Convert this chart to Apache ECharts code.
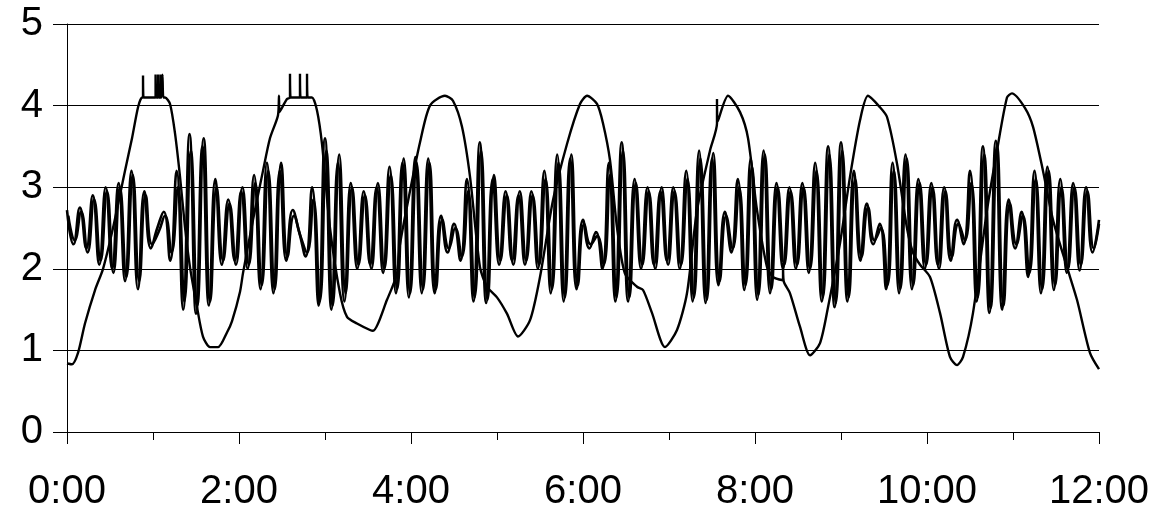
<!DOCTYPE html>
<html>
<head>
<meta charset="utf-8">
<title>chart</title>
<script src="https://cdn.jsdelivr.net/npm/echarts@6/dist/echarts.min.js"></script>
<style>
  html, body { margin: 0; padding: 0; background: #fff; }
  #chart { width: 1165px; height: 515px; }
</style>
</head>
<body>
<div id="chart"></div>
<script>
// x axis in hours, labels every 2 h
const xTicks = [0, 2, 4, 6, 8, 10, 12];
const yTicks = [0, 1, 2, 3, 4, 5];

// slow wave (hours, value)
const slowTimes = [
  0.0, 0.058, 0.128, 0.209, 0.326, 0.419, 0.535, 0.674, 0.756, 0.826, 0.872,
  0.884, 0.884, 0.89, 0.95, 1.03, 1.03, 1.04, 1.06, 1.06, 1.07, 1.09, 1.09, 1.10, 1.11, 1.12, 1.14,
  1.198, 1.256, 1.314, 1.372, 1.43, 1.512, 1.581, 1.663, 1.756, 1.86, 1.919, 2.012, 2.047,
  2.163, 2.279, 2.36, 2.453, 2.465, 2.47, 2.558, 2.593, 2.593, 2.6, 2.709, 2.709, 2.716,
  2.791, 2.791, 2.798, 2.849, 2.907, 2.965, 3.058, 3.174, 3.256, 3.372, 3.523, 3.558,
  3.721, 3.837, 3.872, 3.988, 4.105, 4.221, 4.395, 4.488, 4.593, 4.686, 4.802, 4.884,
  5.0, 5.116, 5.244, 5.384, 5.5, 5.651, 5.814, 5.965, 6.047, 6.163, 6.233, 6.314, 6.395,
  6.488, 6.628, 6.698, 6.802, 6.953, 7.093, 7.209, 7.326, 7.477, 7.558, 7.558, 7.565,
  7.686, 7.826, 7.919, 8.023, 8.14, 8.209, 8.326, 8.326, 8.333, 8.407, 8.523, 8.64,
  8.756, 8.849, 8.988, 9.105, 9.221, 9.314, 9.453, 9.535, 9.651, 9.767, 9.837, 9.919,
  10.035, 10.151, 10.267, 10.349, 10.419, 10.535, 10.698, 10.814, 10.93, 10.988, 11.14,
  11.233, 11.349, 11.465, 11.628, 11.744, 11.895, 12.0
];
const slowValues = [
  0.84, 0.83, 0.97, 1.33, 1.74, 2.0, 2.5, 3.2, 3.6, 3.98, 4.1,
  4.1, 4.37, 4.1, 4.1, 4.1, 4.38, 4.1, 4.1, 4.38, 4.1, 4.1, 4.38, 4.1, 4.38, 4.1, 4.1,
  4.02, 3.66, 3.13, 2.51, 2.02, 1.53, 1.17, 1.04, 1.04, 1.22, 1.36, 1.72, 1.95,
  2.6, 3.2, 3.6, 3.88, 4.12, 3.92, 4.08, 4.1, 4.39, 4.1, 4.1, 4.39, 4.1,
  4.1, 4.39, 4.1, 4.1, 3.94, 3.53, 2.5, 1.7, 1.41, 1.33, 1.25, 1.24,
  1.62, 1.94, 2.3, 2.95, 3.55, 4.0, 4.12, 4.06, 3.74, 3.13, 2.02, 1.78,
  1.65, 1.45, 1.17, 1.37, 1.9, 2.84, 3.53, 4.02, 4.12, 4.02, 3.78, 3.33, 2.51,
  1.94, 1.78, 1.74, 1.46, 1.04, 1.25, 1.7, 2.72, 3.45, 3.78, 4.08, 3.8,
  4.12, 3.92, 3.6, 2.72, 2.02, 1.9, 1.86, 2.07, 1.85, 1.7, 1.29, 0.94,
  1.09, 1.53, 2.31, 3.13, 3.82, 4.12, 3.98, 3.86, 3.29, 2.5, 2.2, 2.05,
  1.9, 1.46, 0.92, 0.82, 0.92, 1.46, 2.72, 3.45, 4.1, 4.15, 3.97,
  3.74, 3.2, 2.6, 2.02, 1.62, 0.97, 0.77
];

// fast oscillations, one reading every 4.5 min (0.075 h), peaks and troughs
const fastStep = 0.075;
const fastA = [
  2.72, 2.3, 2.75, 2.25, 2.9, 2.05, 3.0, 2.0, 3.05, 1.85,
  3.2, 1.75, 2.95, 2.25, 2.5, 2.7, 2.1, 3.2, 1.5, 3.65,
  1.45, 3.5, 1.55, 3.1, 2.05, 2.85, 2.1, 2.95, 2.0, 3.15,
  1.75, 3.3, 1.7, 3.2, 2.1, 2.72, 2.45, 2.15, 3.0, 1.55,
  3.6, 1.5, 3.3, 1.6, 3.05, 2.0, 2.95, 2.05, 3.0, 1.95,
  3.25, 1.7, 3.3, 1.65, 3.37, 1.7, 3.35, 1.7, 2.65, 2.2,
  2.55, 2.1, 3.1, 1.6, 3.55, 1.58, 3.1, 2.05, 2.95, 2.1,
  2.9, 2.05, 2.95, 2.0, 3.2, 1.7, 3.4, 1.6, 3.35, 1.75,
  2.6, 2.25, 2.45, 2.0, 3.3, 1.6, 3.55, 1.6, 3.1, 2.0,
  3.0, 2.05, 2.95, 2.1, 3.0, 2.0, 3.2, 1.6, 3.45, 1.58,
  3.35, 1.8, 2.7, 2.2, 3.1, 1.74, 3.35, 1.62, 3.45, 1.7,
  3.05, 2.0, 3.0, 2.0, 3.05, 1.95, 3.3, 1.6, 3.5, 1.53,
  3.55, 1.6, 3.2, 2.1, 2.8, 2.3, 2.55, 1.75, 3.3, 1.7,
  3.4, 1.75, 3.1, 2.0, 3.05, 2.05, 3.0, 2.1, 2.6, 2.3,
  3.2, 1.6, 3.5, 1.46, 3.57, 1.5, 2.85, 2.25, 2.7, 1.9,
  3.2, 1.7, 3.25, 1.74, 3.1, 1.95, 3.05, 1.98, 3.0, 2.2,
  2.6
];
const fastB = [
  2.65, 2.35, 2.7, 2.2, 2.85, 2.1, 2.95, 1.95, 3.0, 1.9,
  3.15, 1.85, 2.9, 2.3, 2.45, 2.65, 2.2, 3.0, 1.6, 3.45,
  1.55, 3.6, 1.6, 3.0, 2.1, 2.8, 2.05, 3.0, 2.05, 3.05,
  1.8, 3.2, 1.75, 3.3, 2.15, 2.65, 2.4, 2.2, 2.85, 1.6,
  3.45, 1.55, 3.4, 1.7, 3.0, 2.05, 2.9, 2.0, 3.05, 2.0,
  3.15, 1.75, 3.35, 1.7, 3.3, 1.75, 3.3, 1.75, 2.6, 2.25,
  2.5, 2.15, 2.95, 1.65, 3.45, 1.62, 3.15, 2.1, 2.9, 2.05,
  2.95, 2.1, 2.9, 2.05, 3.1, 1.75, 3.3, 1.65, 3.4, 1.8,
  2.55, 2.3, 2.4, 2.05, 3.15, 1.65, 3.45, 1.65, 3.05, 2.05,
  2.95, 2.0, 3.0, 2.05, 2.95, 2.05, 3.1, 1.65, 3.35, 1.62,
  3.42, 1.85, 2.65, 2.25, 3.0, 1.8, 3.25, 1.68, 3.4, 1.75,
  3.0, 2.05, 2.95, 2.05, 3.0, 2.0, 3.2, 1.65, 3.4, 1.58,
  3.45, 1.65, 3.1, 2.15, 2.75, 2.35, 2.5, 1.8, 3.2, 1.75,
  3.35, 1.8, 3.05, 2.05, 3.0, 2.0, 2.95, 2.15, 2.55, 2.35,
  3.05, 1.65, 3.4, 1.52, 3.5, 1.55, 2.8, 2.3, 2.65, 1.95,
  3.1, 1.75, 3.2, 1.8, 3.0, 2.0, 3.0, 2.05, 2.95, 2.25,
  2.55
];
// second gauge is read a little later than the first
const fastShiftB = 0.015;

const chart = echarts.init(document.getElementById('chart'), null, { renderer: 'canvas' });

const font = '"Liberation Sans", Arial, sans-serif';

const option = {
  animation: false,
  backgroundColor: '#ffffff',
  grid: { left: 67, right: 66, top: 24, bottom: 83, containLabel: false },
  xAxis: {
    type: 'value',
    min: xTicks[0],
    max: xTicks[xTicks.length - 1],
    interval: 2,
    axisLine: { show: true, lineStyle: { color: '#000', width: 1 } },
    axisTick: { show: true, length: 12, lineStyle: { color: '#000', width: 1 } },
    minorTick: { show: true, splitNumber: 2, length: 8, lineStyle: { color: '#000', width: 1 } },
    splitLine: { show: false },
    axisLabel: {
      color: '#000',
      fontFamily: font,
      fontSize: 40,
      margin: 40,
      formatter: (v) => xTicks.includes(v) ? v + ':00' : ''
    }
  },
  yAxis: {
    type: 'value',
    min: yTicks[0],
    max: yTicks[yTicks.length - 1],
    interval: 1,
    axisLine: { show: true, lineStyle: { color: '#000', width: 1 } },
    axisTick: { show: true, length: 14, lineStyle: { color: '#000', width: 1 } },
    splitLine: { show: true, lineStyle: { color: '#000', width: 1 } },
    axisLabel: {
      color: '#000',
      fontFamily: font,
      fontSize: 40,
      margin: 24
    }
  },
  series: [
    {
      type: 'line',
      data: fastA.map((v, i) => [i * fastStep, v]),
      showSymbol: false,
      smooth: 0.5,
      lineStyle: { color: '#000', width: 2.6 }
    },
    {
      type: 'line',
      data: fastB.map((v, i) => [Math.min(i * fastStep + fastShiftB, 12), v]),
      showSymbol: false,
      smooth: 0.5,
      lineStyle: { color: '#000', width: 2.6 }
    },
    {
      type: 'line',
      data: slowTimes.map((t, i) => [t, slowValues[i]]),
      showSymbol: false,
      smooth: 0.25,
      lineStyle: { color: '#000', width: 2.4 }
    }
  ]
};

chart.setOption(option);
</script>
</body>
</html>
